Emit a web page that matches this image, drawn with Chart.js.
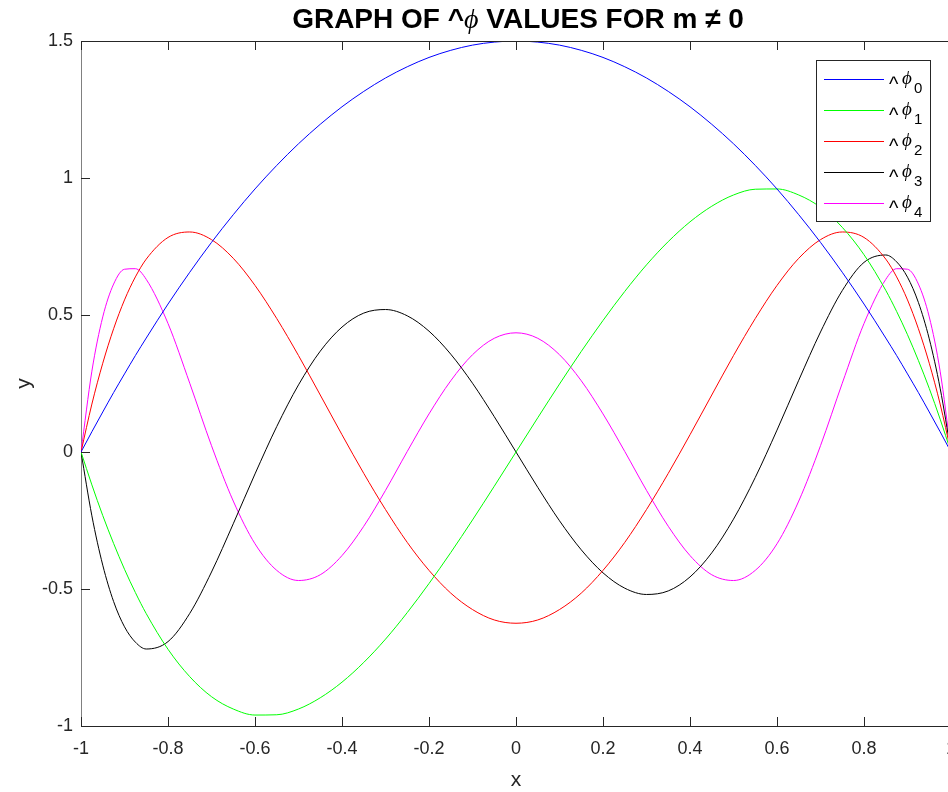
<!DOCTYPE html>
<html>
<head>
<meta charset="utf-8">
<script src="https://cdn.jsdelivr.net/npm/chart.js@4.4.1/dist/chart.umd.min.js"></script>
<style>
html,body{margin:0;padding:0;background:#fff;overflow:hidden;}
#wrap{width:956px;height:792px;}
</style>
</head>
<body>
<div id="wrap"><canvas id="phiChart"></canvas></div>
<script>
// sample points along x (denser near the ends)
const xValues = [-1,-0.975,-0.95,-0.925,-0.9,-0.875,-0.85,-0.8,-0.75,-0.7,-0.65,-0.6,-0.55,-0.5,-0.45,-0.4,-0.35,-0.3,-0.25,-0.2,-0.15,-0.1,-0.05,
  0,0.05,0.1,0.15,0.2,0.25,0.3,0.35,0.4,0.45,0.5,0.55,0.6,0.65,0.7,0.75,0.8,0.85,0.875,0.9,0.925,0.95,0.975,1];

const phi0 = [0,0.074,0.146,0.217,0.285,0.352,0.416,0.54,0.656,0.765,0.866,0.96,1.046,1.125,1.196,1.26,1.316,1.365,1.406,1.44,1.466,1.485,1.496,
  1.5,1.496,1.485,1.466,1.44,1.406,1.365,1.316,1.26,1.196,1.125,1.046,0.96,0.866,0.765,0.656,0.54,0.416,0.352,0.285,0.217,0.146,0.074,0];
const phi1 = [0,-0.12,-0.232,-0.334,-0.428,-0.513,-0.59,-0.72,-0.82,-0.893,-0.938,-0.96,-0.959,-0.938,-0.897,-0.84,-0.768,-0.683,-0.586,-0.48,-0.367,-0.248,-0.125,
  0,0.125,0.248,0.367,0.48,0.586,0.683,0.768,0.84,0.897,0.938,0.959,0.96,0.938,0.893,0.82,0.72,0.59,0.513,0.428,0.334,0.232,0.12,0];
const phi2 = [0,0.175,0.324,0.45,0.555,0.639,0.704,0.783,0.803,0.775,0.707,0.608,0.487,0.352,0.208,0.063,-0.078,-0.21,-0.33,-0.432,-0.515,-0.575,-0.613,
  -0.625,-0.613,-0.575,-0.515,-0.432,-0.33,-0.21,-0.078,0.063,0.208,0.352,0.487,0.608,0.707,0.775,0.803,0.783,0.704,0.639,0.555,0.45,0.324,0.175,0];
const phi3 = [0,-0.233,-0.413,-0.546,-0.638,-0.694,-0.719,-0.692,-0.589,-0.438,-0.262,-0.08,0.093,0.245,0.368,0.456,0.507,0.52,0.497,0.441,0.357,0.251,0.129,
  0,-0.129,-0.251,-0.357,-0.441,-0.497,-0.52,-0.507,-0.456,-0.368,-0.245,-0.093,0.08,0.262,0.438,0.589,0.692,0.719,0.694,0.638,0.546,0.413,0.233,0];
const phi4 = [0,0.295,0.493,0.613,0.667,0.669,0.63,0.469,0.251,0.023,-0.179,-0.335,-0.432,-0.469,-0.448,-0.378,-0.271,-0.14,0.002,0.139,0.26,0.355,0.415,
  0.435,0.415,0.355,0.26,0.139,0.002,-0.14,-0.271,-0.378,-0.448,-0.469,-0.432,-0.335,-0.179,0.023,0.251,0.469,0.63,0.669,0.667,0.613,0.493,0.295,0];

const xTicks = [-1,-0.8,-0.6,-0.4,-0.2,0,0.2,0.4,0.6,0.8,1];
const yTicks = [-1,-0.5,0,0.5,1,1.5];
const seriesNames = ["0","1","2","3","4"];
const seriesColors = ["#0000ff","#00ff00","#ff0000","#000000","#ff00ff"];

const FONT = "'Liberation Sans', Arial, sans-serif";

function toPoints(ys){
    return xValues.map((x,i)=>({x:x, y:ys[i]}));
}

const allSeries = [phi0, phi1, phi2, phi3, phi4];
const datasets = allSeries.map((ys,i)=>({
    label: "^ϕ" + seriesNames[i],
    data: toPoints(ys),
    borderColor: seriesColors[i],
    borderWidth: 1,
    pointRadius: 0,
    cubicInterpolationMode: 'monotone',
    fill: false
}));

// draws the title, axis labels, inward ticks, top box line and legend
const decorations = {
    id: 'decorations',
    afterDraw(chart){
        const ctx = chart.ctx, a = chart.chartArea;
        const sx = chart.scales.x, sy = chart.scales.y;
        ctx.save();

        // top box line
        ctx.strokeStyle = '#262626';
        ctx.lineWidth = 1;
        ctx.beginPath();
        ctx.moveTo(a.left, Math.round(a.top) + 0.5);
        ctx.lineTo(a.right, Math.round(a.top) + 0.5);
        ctx.stroke();

        // inward ticks
        xTicks.forEach(v=>{
            const px = Math.round(sx.getPixelForValue(v)) + 0.5;
            ctx.beginPath();
            ctx.moveTo(px, a.bottom); ctx.lineTo(px, a.bottom - 9);
            ctx.moveTo(px, a.top); ctx.lineTo(px, a.top + 9);
            ctx.stroke();
        });
        yTicks.forEach(v=>{
            const py = Math.round(sy.getPixelForValue(v)) + 0.5;
            ctx.beginPath();
            ctx.moveTo(a.left, py); ctx.lineTo(a.left + 9, py);
            ctx.stroke();
        });

        // title
        const parts = [
            {t: "GRAPH OF ^", f: "bold 28px " + FONT},
            {t: "ϕ", f: "italic 28px 'Liberation Serif', serif"},
            {t: " VALUES FOR m ≠ 0", f: "bold 28px " + FONT}
        ];
        let total = 0;
        parts.forEach(p=>{ ctx.font = p.f; p.w = ctx.measureText(p.t).width; total += p.w; });
        let tx = 518 - total / 2;
        ctx.fillStyle = '#000';
        ctx.textBaseline = 'alphabetic';
        ctx.textAlign = 'left';
        parts.forEach(p=>{ ctx.font = p.f; ctx.fillText(p.t, tx, 28); tx += p.w; });

        // axis labels
        const cx = (a.left + a.right) / 2;
        ctx.fillStyle = '#262626';
        ctx.font = "21px " + FONT;
        ctx.textAlign = 'center';
        ctx.fillText("x", cx, 786);
        ctx.save();
        ctx.translate(30, (a.top + a.bottom) / 2);
        ctx.rotate(-Math.PI / 2);
        ctx.fillText("y", 0, 0);
        ctx.restore();

        // legend
        const lx = 816, ly = 60, lw = 114, lh = 161;
        ctx.fillStyle = '#fff';
        ctx.fillRect(lx, ly, lw, lh);
        ctx.strokeStyle = '#262626';
        ctx.strokeRect(lx + 0.5, ly + 0.5, lw, lh);
        chart.data.datasets.forEach((ds,i)=>{
            const y = 79 + 31 * i;
            ctx.strokeStyle = ds.borderColor;
            ctx.beginPath();
            ctx.moveTo(824, y + 0.5); ctx.lineTo(884, y + 0.5);
            ctx.stroke();
            ctx.fillStyle = '#000';
            ctx.textAlign = 'left';
            ctx.font = "20px " + FONT;
            ctx.fillText("^", 889, y + 12);
            ctx.font = "italic 19px 'Liberation Serif', serif";
            ctx.fillText("ϕ", 902, y + 5);
            ctx.font = "15px " + FONT;
            ctx.fillText(seriesNames[i], 914, y + 14);
        });

        ctx.restore();
    }
};

new Chart(document.getElementById('phiChart'), {
    type: 'line',
    data: { datasets: datasets },
    options: {
        animation: false,
        responsive: true,
        maintainAspectRatio: false,
        layout: { padding: { top: 41, right: 5, left: 0, bottom: 0 } },
        plugins: {
            legend: { display: false },
            title: { display: false },
            tooltip: { enabled: false }
        },
        scales: {
            x: {
                type: 'linear',
                min: -1, max: 1,
                afterBuildTicks: s => { s.ticks = xTicks.map(v=>({value:v})); },
                afterFit: s => { s.height = 66; s.paddingLeft = 0; s.paddingRight = 0; },
                grid: { display: false, drawTicks: false, tickLength: 0 },
                border: { display: true, color: '#262626', width: 1 },
                ticks: {
                    autoSkip: false, maxRotation: 0, padding: 12,
                    color: '#262626', font: { family: FONT, size: 18 },
                    callback: v => String(v)
                }
            },
            y: {
                type: 'linear',
                min: -1, max: 1.5,
                afterBuildTicks: s => { s.ticks = yTicks.map(v=>({value:v})); },
                afterFit: s => { s.width = 81; s.paddingTop = 0; s.paddingBottom = 0; },
                grid: { display: false, drawTicks: false, tickLength: 0 },
                border: { display: true, color: '#808080', width: 1 },
                ticks: {
                    autoSkip: false, padding: 8,
                    color: '#262626', font: { family: FONT, size: 18 },
                    callback: v => String(v)
                }
            }
        }
    },
    plugins: [decorations]
});
</script>
</body>
</html>
